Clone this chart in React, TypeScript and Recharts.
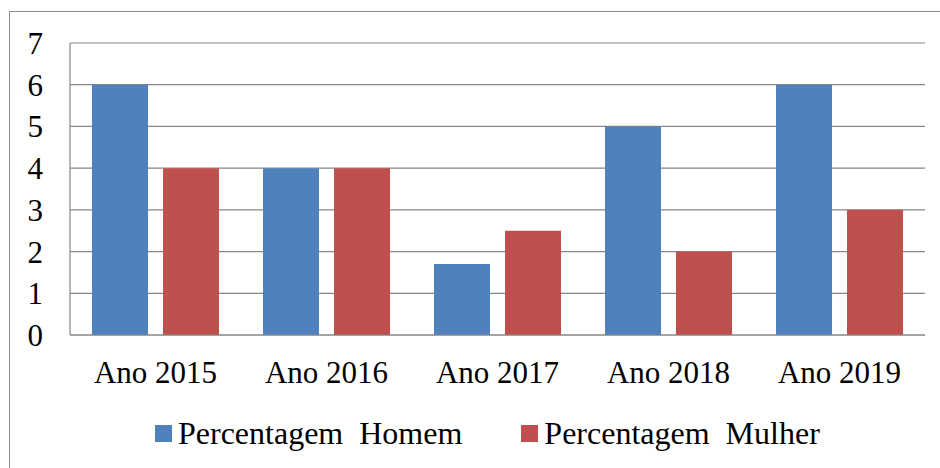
import React from "react";
import { BarChart, Bar, XAxis, YAxis, CartesianGrid, Legend } from "recharts";

const categories = ["Ano 2015", "Ano 2016", "Ano 2017", "Ano 2018", "Ano 2019"];
const homem = [6, 4, 1.7, 5, 6];
const mulher = [4, 4, 2.5, 2, 3];
const yTicks = [0, 1, 2, 3, 4, 5, 6, 7];
const seriesNames = ["Percentagem\u00a0\u00a0Homem", "Percentagem\u00a0\u00a0Mulher"];
const colors = ["#4F81BD", "#C0504D"];

const data = categories.map((c, i) => ({ name: c, homem: homem[i], mulher: mulher[i] }));

const FONT = '"Liberation Serif", "Times New Roman", serif';

const LegendContent = () => (
  <div
    style={{
      display: "flex",
      alignItems: "center",
      height: 30,
      paddingLeft: 155,
      fontFamily: FONT,
      fontSize: 32,
      color: "#000",
      whiteSpace: "nowrap",
    }}
  >
    {seriesNames.map((n, i) => (
      <div key={n} style={{ display: "flex", alignItems: "center", marginRight: 59 }}>
        <div style={{ width: 17, height: 17, background: colors[i], marginRight: 6 }} />
        <span style={{ lineHeight: "30px" }}>{n}</span>
      </div>
    ))}
  </div>
);

export default function App() {
  return (
    <div
      style={{
        position: "fixed",
        left: 0,
        top: 0,
        width: 940,
        height: 468,
        overflow: "hidden",
        background: "#fff",
      }}
    >
      <div
        style={{
          position: "absolute",
          left: 9,
          top: 11,
          width: 1000,
          height: 1000,
          border: "1px solid #8c8c8c",
        }}
      />
      <div style={{ position: "absolute", left: 0, top: 0 }}>
        <BarChart
          width={940}
          height={468}
          data={data}
          margin={{ top: 43, right: 15, left: 0, bottom: 20 }}
          barCategoryGap={22}
          barGap={15}
        >
          <CartesianGrid horizontal vertical={false} stroke="#868686" strokeWidth={1.2} />
          <XAxis
            dataKey="name"
            height={83}
            tickLine={false}
            tickSize={0}
            tickMargin={26}
            axisLine={{ stroke: "#868686", strokeWidth: 1.2 }}
            tick={{ fontFamily: FONT, fontSize: 31, fill: "#000" }}
            interval={0}
          />
          <YAxis
            width={70}
            domain={[0, 7]}
            ticks={yTicks}
            tickLine={false}
            tickSize={0}
            tickMargin={27}
            axisLine={{ stroke: "#868686", strokeWidth: 1.2 }}
            tick={{ fontFamily: FONT, fontSize: 31, fill: "#000" }}
            interval={0}
          />
          <Legend
            verticalAlign="bottom"
            align="left"
            content={<LegendContent />}
            wrapperStyle={{ height: 30 }}
          />
          <Bar dataKey="homem" name={seriesNames[0]} fill={colors[0]} isAnimationActive={false} />
          <Bar dataKey="mulher" name={seriesNames[1]} fill={colors[1]} isAnimationActive={false} />
        </BarChart>
      </div>
    </div>
  );
}
